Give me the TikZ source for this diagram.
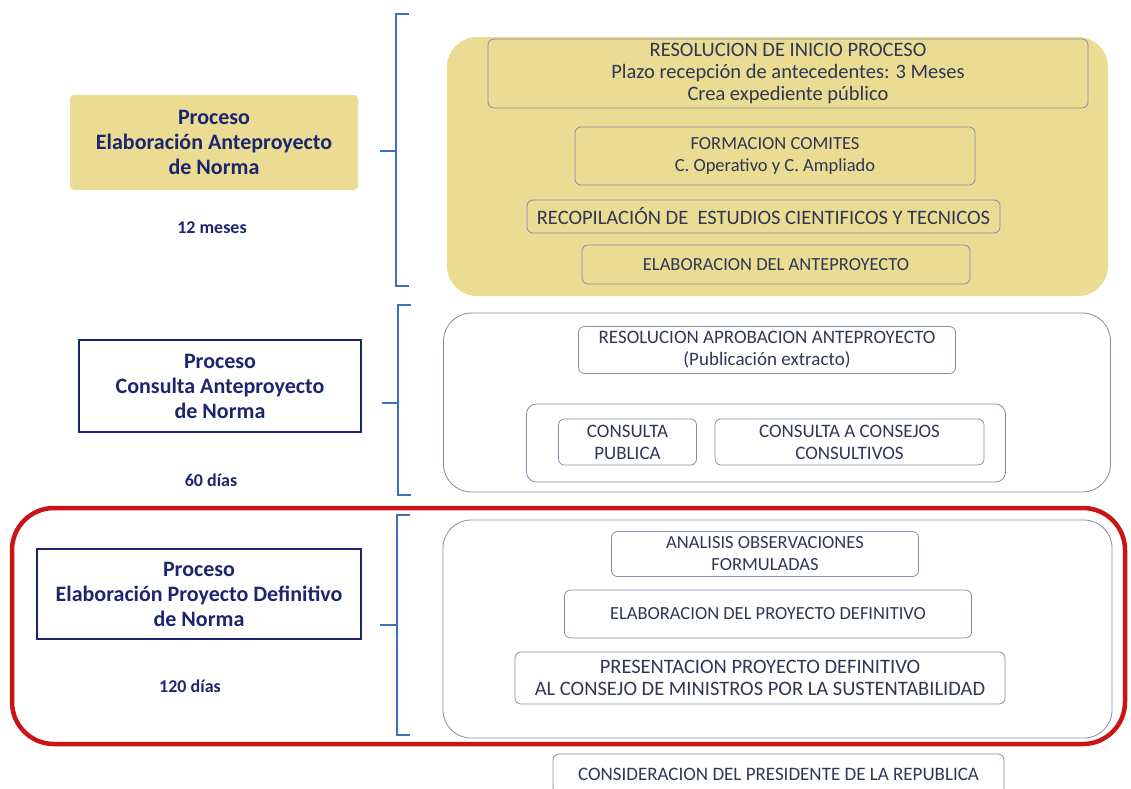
\documentclass[tikz,border=0pt]{standalone}
\usepackage{fontspec}
\setmainfont{Carlito}
\usepackage{tikz}
\usetikzlibrary{positioning}
\definecolor{navy}{RGB}{28,38,112}
\definecolor{inktext}{RGB}{48,54,84}
\definecolor{sand}{RGB}{234,220,146}
\definecolor{edgegray}{RGB}{132,140,168}
\definecolor{bracketblue}{RGB}{62,112,192}
\definecolor{alertred}{RGB}{200,22,22}
\tikzset {
  % process label on the left
  phase/.style = {align=center, text=navy, inner sep=0pt,
    font=\fontsize{22}{25}\selectfont\bfseries},
  phasebox/.style = {phase, draw=navy, line width=1.1pt},
  phasesand/.style = {phase, fill=sand, rounded corners=4pt},
  % duration below the label
  term/.style = {text=navy, font=\fontsize{18}{20}\selectfont\bfseries},
  % big groups on the right
  sandgroup/.style = {fill=sand, rounded corners=30pt},
  group/.style = {draw=edgegray, line width=0.8pt, rounded corners=28pt},
  subgroup/.style = {draw=edgegray, line width=0.8pt, rounded corners=10pt},
  % single steps
  task/.style = {draw=edgegray, line width=0.8pt, rounded corners=6pt,
    align=center, text=inktext, inner sep=0pt,
    font=\fontsize{19}{22}\selectfont},
  big/.style = {font=\fontsize{20.5}{22}\selectfont},
  small/.style = {font=\fontsize{18.5}{22}\selectfont},
  % curly bracket
  bracket/.style = {bracketblue, line width=1.6pt},
  alert/.style = {draw=alertred, line width=4.5pt, rounded corners=42pt},
}
\begin{document}
\begin{tikzpicture}[x=1pt, y=-1pt]
  \useasboundingbox (0,0) rectangle (1131,788);

  % Elaboracion anteproyecto
  \node[sandgroup, minimum width=661, minimum height=259] (grp1) at (777.5,166.5) {};
  \node[task, big, minimum width=600, minimum height=69] (inicio) at (788,73.5)
    {RESOLUCION DE INICIO PROCESO\\Plazo recepción de antecedentes: 3 Meses\\Crea expediente público};
  \node[task, small, minimum width=400, minimum height=58] (comites) at (775,156)
    {FORMACION COMITES\\C. Operativo y C. Ampliado};
  \node[task, big, minimum width=473, minimum height=33] (estudios) at (763.5,216.5)
    {RECOPILACIÓN DE\ \ ESTUDIOS CIENTIFICOS Y TECNICOS};
  \node[task, small, minimum width=388, minimum height=39] (antep) at (776,264.5)
    {ELABORACION DEL ANTEPROYECTO};

  \node[phasesand, minimum width=288, minimum height=95] (lab1) at (214,142.5)
    {Proceso\\Elaboración Anteproyecto\\de Norma};
  \node[term] (dur1) at (212,228) {12 meses};

  \coordinate (b1) at (409,14);
  \coordinate (t1) at (380,151);
  \draw[bracket] (b1) -- ++(-13,0) -- ++(0,272) -- ++(13,0);
  \draw[bracket] (t1) -- ++(16,0);

  % Consulta anteproyecto
  \node[group, minimum width=667, minimum height=179] (grp2) at (777,402.5) {};
  \node[task, minimum width=377, minimum height=47] (aprob) at (767,350)
    {RESOLUCION APROBACION ANTEPROYECTO\\(Publicación extracto)};
  \node[subgroup, minimum width=479, minimum height=78] (cons) at (766,443) {};
  \node[task, minimum width=138, minimum height=46] (publica) at (627.5,442)
    {CONSULTA\\PUBLICA};
  \node[task, minimum width=269, minimum height=46] (consejos) at (849.5,442)
    {CONSULTA A CONSEJOS\\CONSULTIVOS};

  \node[phasebox, minimum width=282, minimum height=92] (lab2) at (220,386)
    {Proceso\\Consulta Anteproyecto\\de Norma};
  \node[term] (dur2) at (211,480) {60 días};

  \coordinate (b2) at (411,305);
  \coordinate (t2) at (382,403);
  \draw[bracket] (b2) -- ++(-13,0) -- ++(0,190) -- ++(13,0);
  \draw[bracket] (t2) -- ++(16,0);

  % Proyecto definitivo
  \node[group, minimum width=669, minimum height=218] (grp3) at (777.5,629) {};
  \node[task, small, minimum width=307, minimum height=45] (obs) at (765,554)
    {ANALISIS OBSERVACIONES\\FORMULADAS};
  \node[task, small, minimum width=407, minimum height=48] (defin) at (768,614)
    {ELABORACION DEL PROYECTO DEFINITIVO};
  \node[task, big, minimum width=490, minimum height=52] (consejo) at (760,678)
    {PRESENTACION PROYECTO DEFINITIVO\\AL CONSEJO DE MINISTROS POR LA SUSTENTABILIDAD};

  \node[phasebox, minimum width=324, minimum height=90] (lab3) at (199,594)
    {Proceso\\Elaboración Proyecto Definitivo\\de Norma};
  \node[term] (dur3) at (190,686) {120 días};

  \coordinate (b3) at (410,515);
  \coordinate (t3) at (380,625);
  \draw[bracket] (b3) -- ++(-13,0) -- ++(0,220) -- ++(13,0);
  \draw[bracket] (t3) -- ++(17,0);

  \node[alert, minimum width=1113, minimum height=236] (focus) at (568.5,626) {};

  \node[task, minimum width=451, minimum height=40] (presid) at (778.5,774)
    {CONSIDERACION DEL PRESIDENTE DE LA REPUBLICA};
\end{tikzpicture}
\end{document}
